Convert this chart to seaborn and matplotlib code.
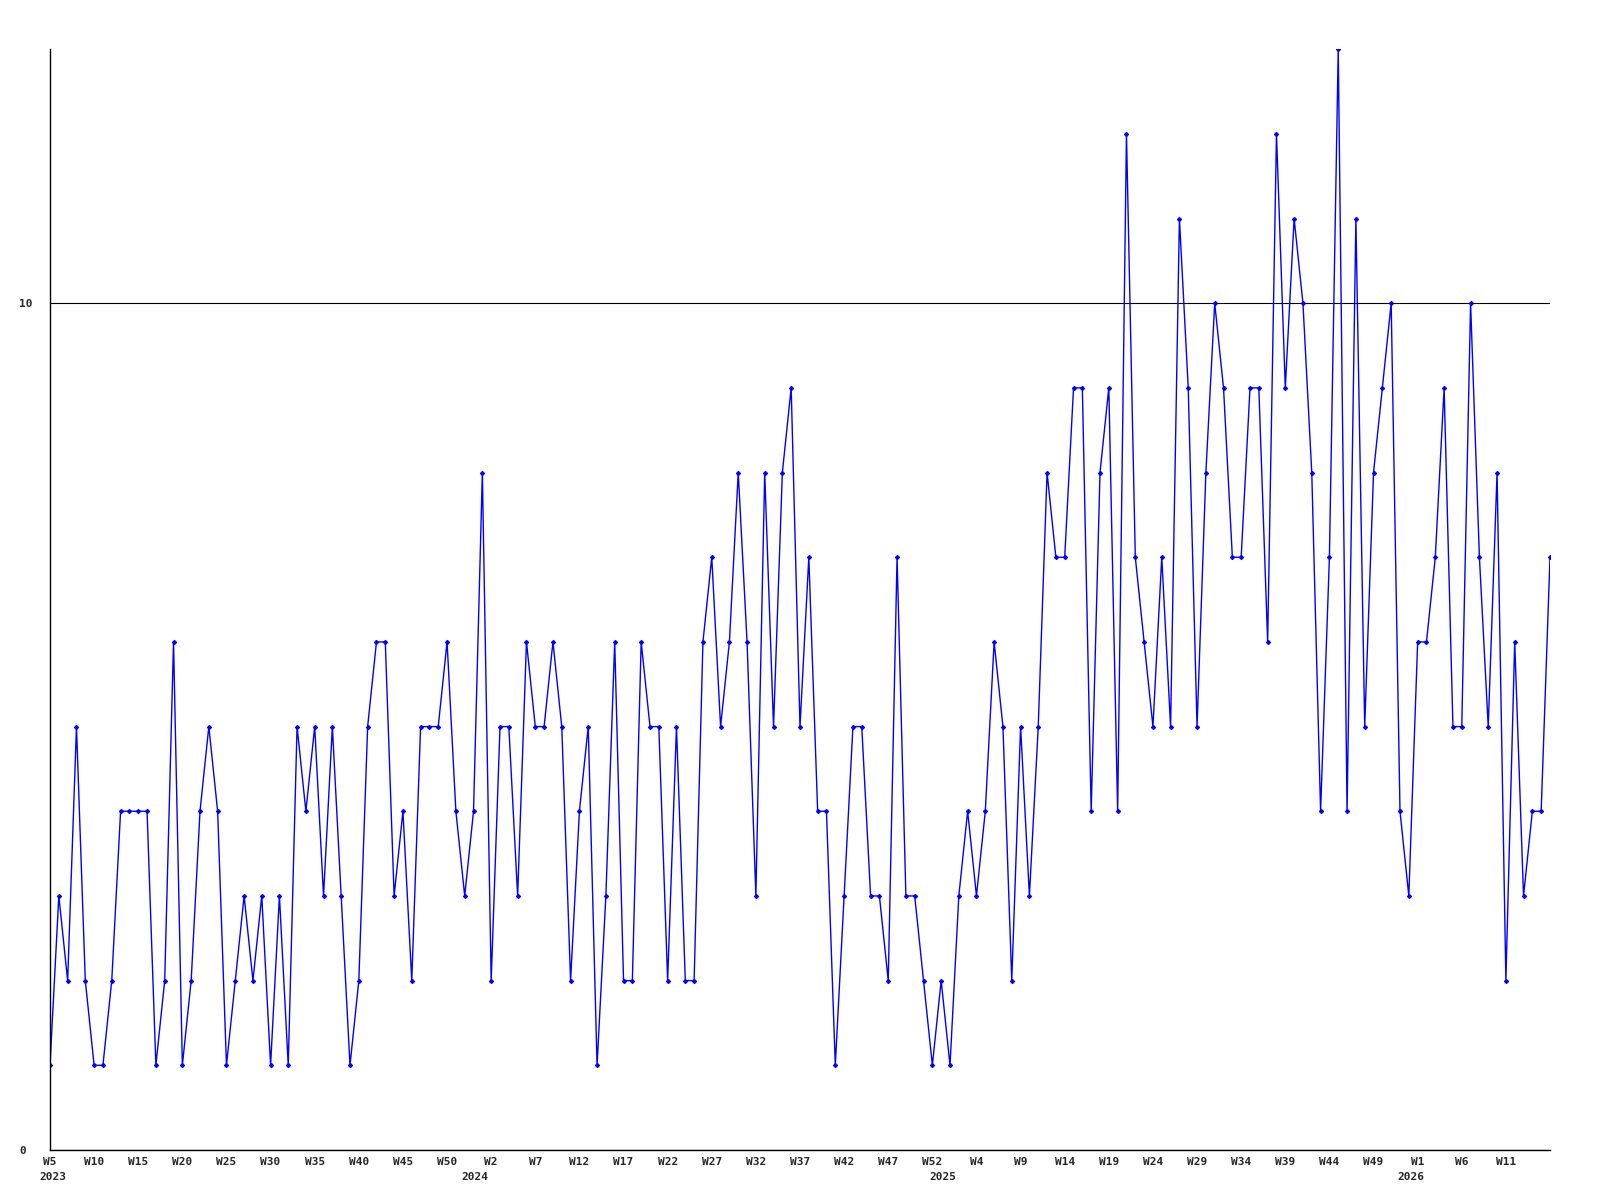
import matplotlib
matplotlib.use("Agg")
import matplotlib.pyplot as plt
import seaborn as sns
import pandas as pd

# =========================
# DATA
# =========================
# weekly counts, 2023 W5 .. 2026 W16 (weeks numbered 1..53 per year)
year_weeks = [(2023, 5, 53), (2024, 1, 53), (2025, 1, 53), (2026, 1, 16)]

values = [
    1, 3, 2, 5, 2, 1, 1, 2, 4, 4, 4, 4, 1, 2, 6, 1, 2, 4, 5, 4, 1, 2, 3, 2,
    3, 1, 3, 1, 5, 4, 5, 3, 5, 3, 1, 2, 5, 6, 6, 3, 4, 2, 5, 5, 5, 6, 4, 3,
    4, 8, 2, 5, 5, 3, 6, 5, 5, 6, 5, 2, 4, 5, 1, 3, 6, 2, 2, 6, 5, 5, 2, 5, 2,
    2, 6, 7, 5, 6, 8, 6, 3, 8, 5, 8, 9, 5, 7, 4, 4, 1, 3, 5, 5, 3, 3, 2, 7, 3,
    3, 2, 1, 2, 1, 3, 4, 3, 4, 6, 5, 2, 5, 3, 5, 8, 7, 7, 9, 9, 4, 8, 9, 4, 12,
    7, 6, 5, 7, 5, 11, 9, 5, 8, 10, 9, 7, 7, 9, 9, 6, 12, 9, 11, 10, 8, 4, 7, 13, 4,
    11, 5, 8, 9, 10, 4, 3, 6, 6, 7, 9, 5, 5, 10, 7, 5, 8, 2, 6, 3, 4, 4, 7,
]

y_ticks = [0, 10]

# =========================
# BUILD TABLE
# =========================
years = []
weeks = []
for yr, w0, w1 in year_weeks:
    for w in range(w0, w1 + 1):
        years.append(yr)
        weeks.append(w)

df = pd.DataFrame({"idx": range(len(values)), "year": years,
                   "week": weeks, "count": values})

# =========================
# PLOT
# =========================
sns.set_theme(style="white")
plt.rcParams["font.family"] = ["DejaVu Sans Mono"]
plt.rcParams["font.weight"] = "bold"

fig, ax = plt.subplots(figsize=(16, 12), dpi=100)
fig.subplots_adjust(left=0.03125, right=0.96875, top=0.959, bottom=0.0417)

sns.lineplot(data=df, x="idx", y="count", ax=ax, color="#0000ff",
             linewidth=1, marker="D", markersize=2.2,
             markeredgecolor="#0000ff", markerfacecolor="#0000ff")

ax.set_xlim(0, len(values) - 1)
ax.set_ylim(0, 13)

# x ticks every 5 weeks (none on the right edge)
tick_pos = list(range(0, len(values) - 1, 5))
ax.set_xticks(tick_pos)
ax.set_xticklabels([f"W{weeks[i]}" for i in tick_pos])
ax.tick_params(axis="x", length=0, pad=5, labelsize=8)

# year labels under the start of each year
for yr in sorted(set(years)):
    first = df[df["year"] == yr]
    start = first[first["week"] == 1]["idx"]
    pos = start.iloc[0] - 0.8 if len(start) else first["idx"].iloc[0] + 0.3
    ax.annotate(str(yr), xy=(pos, 0), xycoords=("data", "axes fraction"),
                xytext=(0, -19.5), textcoords="offset points",
                ha="center", va="center", fontsize=8, fontweight="bold")

ax.set_yticks(y_ticks)
ax.set_yticklabels([str(v) for v in y_ticks])
ax.tick_params(axis="y", length=0, pad=22, labelsize=8)
for lab in ax.get_yticklabels():
    lab.set_horizontalalignment("left")

ax.yaxis.grid(True, color="black", linewidth=0.8)
ax.xaxis.grid(False)

for side in ["top", "right"]:
    ax.spines[side].set_visible(False)
for side in ["left", "bottom"]:
    ax.spines[side].set_color("black")
    ax.spines[side].set_linewidth(1)

ax.set_xlabel("")
ax.set_ylabel("")

plt.savefig("out.png", dpi=100, facecolor="white")
